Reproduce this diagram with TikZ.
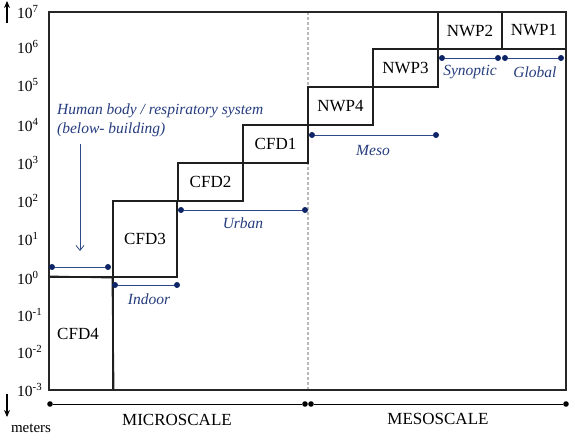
\documentclass[tikz,border=0pt]{standalone}
\usepackage{fontspec}
\setmainfont{Liberation Serif}
\usetikzlibrary{arrows.meta}
\definecolor{bluetxt}{HTML}{253C7E}
\definecolor{blueline}{HTML}{2E4A86}
\definecolor{bluedot}{HTML}{0D2466}
\tikzset{
  box/.style={draw=black!88, line width=1.5pt, inner sep=0pt, font=\fontsize{17}{20}\selectfont},
  frame/.style={draw=black!85, line width=1.3pt},
  ylab/.style={anchor=west, inner sep=0pt, font=\fontsize{15.5}{18}\selectfont},
  bdot/.style={circle, fill=bluedot, inner sep=0pt, minimum size=6pt},
  kdot/.style={circle, fill=black, inner sep=0pt, minimum size=5.6pt},
  rng/.style={draw=blueline, line width=0.9pt},
  blab/.style={text=bluetxt, font=\fontsize{15.5}{19}\selectfont\itshape, inner sep=0pt},
  caps/.style={font=\fontsize{17}{20}\selectfont, inner sep=0pt},
  bigarrow/.style={line width=1.6pt, -{Stealth[length=7pt,width=6pt]}}
}
\begin{document}
\begin{tikzpicture}[x=1pt,y=-1pt]
\useasboundingbox (0,0) rectangle (570,434);
% dashed separator
\coordinate (dtop) at (308,12);
\coordinate (dbot) at (308,390);
\draw[gray!55, line width=1.1pt, dash pattern=on 3pt off 2pt] (dtop) -- (dbot);
% boxes
\node[box, minimum width=64pt, minimum height=113pt] (cfd4box) at (81,333.5) {};
\node (cfd4) at (78,334) [font=\fontsize{17}{20}\selectfont] {CFD4};
\node[box, minimum width=64pt, minimum height=76pt] (cfd3) at (145,239) {CFD3};
\draw[draw=black!88, line width=1.5pt] (cfd3.south west) -- (cfd4box.north west);
\draw[draw=black!88, line width=1.5pt] (cfd3.south west) -- (cfd4box.south east);
\node[box, minimum width=65pt, minimum height=38pt] (cfd2) at (210.5,182) {CFD2};
\node[box, minimum width=65pt, minimum height=38pt] (cfd1) at (275.5,144) {CFD1};
\node[box, minimum width=65pt, minimum height=38pt] (nwp4) at (340.5,106) {NWP4};
\node[box, minimum width=65pt, minimum height=38pt] (nwp3) at (405.5,68) {NWP3};
\node[box, minimum width=64pt, minimum height=37pt] (nwp2) at (470,30.5) {NWP2};
\node[box, minimum width=64pt, minimum height=37pt] (nwp1) at (534,30.5) {NWP1};
% frame
\coordinate (ftl) at (49,12);
\coordinate (fbr) at (566,390);
\draw[frame] (ftl) rectangle (fbr);
% y labels
\node[ylab] (y7) at (17,12) {10\textsuperscript{7}};
\node[ylab] (y6) at (17,47) {10\textsuperscript{6}};
\node[ylab] (y5) at (17,85) {10\textsuperscript{5}};
\node[ylab] (y4) at (17,125) {10\textsuperscript{4}};
\node[ylab] (y3) at (17,163) {10\textsuperscript{3}};
\node[ylab] (y2) at (17,201) {10\textsuperscript{2}};
\node[ylab] (y1) at (17,239) {10\textsuperscript{1}};
\node[ylab] (y0) at (17,278) {10\textsuperscript{0}};
\node[ylab] (ym1) at (17,315) {10\textsuperscript{-1}};
\node[ylab] (ym2) at (17,352) {10\textsuperscript{-2}};
\node[ylab] (ym3) at (17,390) {10\textsuperscript{-3}};
% axis arrows
\coordinate (ua1) at (7,23);
\coordinate (ua2) at (7,1);
\draw[bigarrow] (ua1) -- (ua2);
\coordinate (da1) at (7,394);
\coordinate (da2) at (7,417);
\draw[bigarrow] (da1) -- (da2);
\node[font=\fontsize{15}{18}\selectfont, inner sep=0pt] (meters) at (31,428) {meters};
% blue ranges
\node[bdot] (hb1) at (52,267) {};
\node[bdot] (hb2) at (108,267) {};
\draw[rng] (hb1) -- (hb2);
\node[bdot] (in1) at (115,285) {};
\node[bdot] (in2) at (177,285) {};
\draw[rng] (in1) -- (in2);
\node[bdot] (ur1) at (181,210) {};
\node[bdot] (ur2) at (305,210) {};
\draw[rng] (ur1) -- (ur2);
\node[bdot] (me1) at (312,135) {};
\node[bdot] (me2) at (436,135) {};
\draw[rng] (me1) -- (me2);
\node[bdot] (sy1) at (442,58) {};
\node[bdot] (sy2) at (498,58) {};
\draw[rng] (sy1) -- (sy2);
\node[bdot] (gl1) at (505,58) {};
\node[bdot] (gl2) at (561,58) {};
\draw[rng] (gl1) -- (gl2);
% blue labels
\node[blab, align=left, anchor=west] (hb) at (57,120) {Human body / respiratory system\\(below- building)};
\coordinate (hbtop) at (80,144);
\coordinate (hbarrow) at (80,251);
\draw[draw=blueline, line width=0.8pt, -{Straight Barb[length=5pt,width=8pt]}] (hbtop) -- (hbarrow);
\node[blab] (indoor) at (149,299) {Indoor};
\node[blab] (urban) at (243,223) {Urban};
\node[blab] (meso) at (373,150) {Meso};
\node[blab] (synoptic) at (470,72) {Synoptic};
\node[blab] (global) at (535,72) {Global};
% bottom axis
\node[kdot] (ax1) at (50,404) {};
\node[kdot] (ax2) at (305,404) {};
\node[kdot] (ax3) at (311,404) {};
\node[kdot] (ax4) at (566,404) {};
\draw[line width=1pt] (ax1) -- (ax2);
\draw[line width=1pt] (ax3) -- (ax4);
\node[caps] (micro) at (177,420) {MICROSCALE};
\node[caps] (meso2) at (438,419) {MESOSCALE};
\end{tikzpicture}
\end{document}
